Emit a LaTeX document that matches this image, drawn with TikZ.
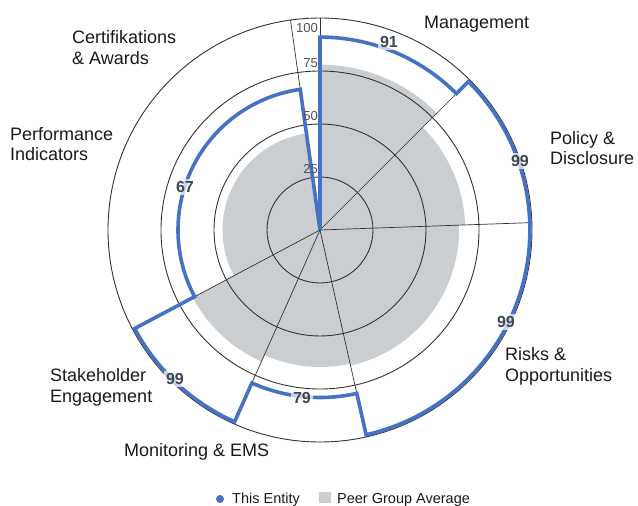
\documentclass[tikz,border=0pt]{standalone}
\usepackage{fontspec}
\setmainfont{Liberation Sans}
\definecolor{entity}{HTML}{4472C4}
\definecolor{peer}{HTML}{CBCED1}
\definecolor{gridc}{HTML}{333333}
\definecolor{vallab}{HTML}{3D4651}
\definecolor{axlab}{HTML}{505050}
\definecolor{cattext}{HTML}{1A1A1A}
\begin{document}
\begin{tikzpicture}[x=1pt,y=1pt,
  ringline/.style={draw=gridc, line width=0.9pt},
  spoke/.style={draw=gridc, line width=0.7pt},
  entityline/.style={draw=entity, line width=3.6pt, line join=miter},
  catlabel/.style={anchor=base west, inner sep=0pt, text=cattext, font=\fontsize{18}{21}\selectfont},
  vallabel/.style={inner sep=2pt, fill=white, fill opacity=0.7, text opacity=1, text=vallab, font=\bfseries\fontsize{16}{16}\selectfont},
  axislabel/.style={anchor=east, inner sep=0pt, text=axlab, font=\fontsize{13}{13}\selectfont},
  legendtext/.style={anchor=base west, inner sep=0pt, text=cattext, font=\fontsize{14.5}{14.5}\selectfont}]
\useasboundingbox (-320,-276) rectangle (318,230);
% peer group
\fill[peer] (0,0) -- (90:165.4pt) arc[start angle=90,end angle=45,radius=165.4pt]
  -- (45:145.2pt) arc[start angle=45,end angle=2,radius=145.2pt]
  -- (2:139pt) arc[start angle=2,end angle=-77.3,radius=139pt]
  -- (-77.3:137pt) arc[start angle=-77.3,end angle=-114,radius=137pt]
  -- (-114:144pt) arc[start angle=-114,end angle=-152,radius=144pt]
  -- (-152:97.5pt) arc[start angle=-152,end angle=-262,radius=97.5pt] -- cycle;
% rings
\foreach \r in {53,106,159,212} \draw[ringline] (0,0) circle[radius=\r pt];
% spokes
\foreach \a in {90,45,2,-77.3,-114,-152,98} \draw[spoke] (0,0) -- (\a:212pt);
% entity
\draw[entityline] (0,0) -- (90:192.9pt) arc[start angle=90,end angle=45,radius=192.9pt]
  -- (45:209.9pt) arc[start angle=45,end angle=-77.3,radius=209.9pt]
  -- (-77.3:167.5pt) arc[start angle=-77.3,end angle=-114,radius=167.5pt]
  -- (-114:209.9pt) arc[start angle=-114,end angle=-152,radius=209.9pt]
  -- (-152:142pt) arc[start angle=-152,end angle=-262,radius=142pt] -- cycle;
% axis labels
\node[axislabel] (ax100) at (-2,201.5) {100};
\node[axislabel] (ax75) at (-2,167) {75};
\node[axislabel] (ax50) at (-2,114) {50};
\node[axislabel] (ax25) at (-2,61) {25};
% value labels
\node[vallabel] (v1) at (69,188) {91};
\node[vallabel] (v2) at (200,69) {99};
\node[vallabel] (v3) at (186,-92) {99};
\node[vallabel] (v4) at (-18,-168) {79};
\node[vallabel] (v5) at (-145,-149) {99};
\node[vallabel] (v6) at (-135,43) {67};
% category labels
\node[catlabel] (c1) at (104,201.7) {Management};
\node[catlabel] (c2a) at (230,85.7) {Policy \&};
\node[catlabel] (c2b) at (230,65.7) {Disclosure};
\node[catlabel] (c3a) at (185,-130.7) {Risks \&};
\node[catlabel] (c3b) at (185,-151.7) {Opportunities};
\node[catlabel] (c4) at (-196,-226) {Monitoring \& EMS};
\node[catlabel] (c5a) at (-270,-151) {Stakeholder};
\node[catlabel] (c5b) at (-270,-172) {Engagement};
\node[catlabel] (c6a) at (-310,89.3) {Performance};
\node[catlabel] (c6b) at (-310,69.3) {Indicators};
\node[catlabel] (c7a) at (-248,186) {Certifikations};
\node[catlabel] (c7b) at (-248,165.7) {\& Awards};
% legend
\fill[entity] (-100,-269) circle[radius=4pt];
\node[legendtext] (l1) at (-88,-273) {This Entity};
\fill[peer] (-1,-262) rectangle (11,-273);
\node[legendtext] (l2) at (17,-273) {Peer Group Average};
\end{tikzpicture}
\end{document}
